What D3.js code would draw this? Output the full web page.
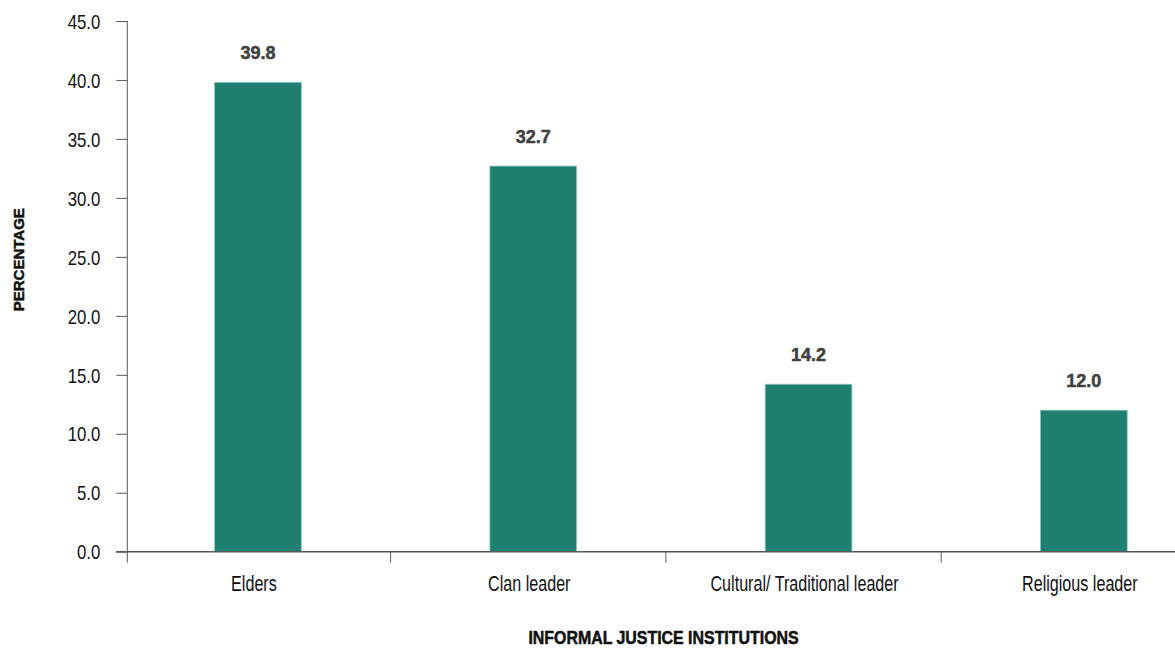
<!DOCTYPE html>
<html>
<head>
<meta charset="utf-8">
<script src="https://cdn.jsdelivr.net/npm/d3@7"></script>
<style>
  html, body { margin: 0; padding: 0; background: #fff; }
  svg { display: block; }
  text { font-family: "Liberation Sans", Arial, sans-serif; }
</style>
</head>
<body>
<svg id="chart" width="1175" height="649"></svg>
<script>
// Share of respondents by informal justice institution (%)
const categories = ["Elders", "Clan leader", "Cultural/ Traditional leader", "Religious leader"];
const values = [39.8, 32.7, 14.2, 12.0];
const yTicks = [0, 5, 10, 15, 20, 25, 30, 35, 40, 45];
const yTitle = "PERCENTAGE";
const xTitle = "INFORMAL JUSTICE INSTITUTIONS";

const svg = d3.select("#chart");

const x = d3.scaleBand().domain(categories).range([120.3, 1221.5]).padding(0);
const barFrac = 0.315;
const y = d3.scaleLinear().domain([0, 45]).range([551.7, 21]);

const axisColor = "#595959";

// Narrow type: text is placed at (px, py) and squeezed horizontally by sx
function place(sel, px, py, sx, rot) {
  return sel.attr("x", 0).attr("y", 0)
    .attr("transform", (d, i) => {
      const tx = typeof px === "function" ? px(d, i) : px;
      const ty = typeof py === "function" ? py(d, i) : py;
      return `translate(${tx},${ty})` + (rot ? ` rotate(${rot})` : "") + ` scale(${sx},1)`;
    });
}

// Bars
svg.append("g").selectAll("rect")
  .data(values)
  .join("rect")
  .attr("x", (d, i) => x(categories[i]) + x.bandwidth() * (1 - barFrac) / 2)
  .attr("width", x.bandwidth() * barFrac)
  .attr("y", d => y(d))
  .attr("height", d => y(0) - y(d))
  .attr("fill", "#1f7f71")
  .attr("stroke", "#8cc8bb")
  .attr("stroke-width", 0.8);

// Value labels
svg.append("g").selectAll("text")
  .data(values)
  .join("text")
  .call(place, (d, i) => x(categories[i]) + x.bandwidth() / 2, d => y(d) - 23, 0.95)
  .attr("text-anchor", "middle")
  .attr("font-size", 19)
  .attr("font-weight", "bold")
  .attr("fill", "#404040")
  .attr("stroke", "#404040")
  .attr("stroke-width", 0.5)
  .text(d => d.toFixed(1));

// Y axis ticks and labels
const yAxis = svg.append("g")
  .attr("transform", `translate(127.3,0)`)
  .call(d3.axisLeft(y).tickValues(yTicks).tickFormat(d3.format(".1f")).tickSize(11).tickPadding(16))
  .call(g => g.select(".domain").remove());
yAxis.selectAll(".tick line").attr("stroke", axisColor);
yAxis.selectAll(".tick text")
  .attr("font-size", 20)
  .attr("fill", "#111")
  .attr("font-family", null)
  .attr("dy", null)
  .each(function () {
    d3.select(this).attr("transform", `translate(-27,7.2) scale(0.84,1)`).attr("x", 0);
  });
svg.append("line")
  .attr("x1", 127.3).attr("x2", 127.3)
  .attr("y1", y(45)).attr("y2", y(0) + 11)
  .attr("stroke", axisColor).attr("stroke-width", 1);

// X axis
svg.append("line")
  .attr("x1", 116).attr("x2", 1175)
  .attr("y1", y(0)).attr("y2", y(0))
  .attr("stroke", axisColor).attr("stroke-width", 1.5);
svg.append("g").selectAll("line")
  .data(categories.slice(1))
  .join("line")
  .attr("x1", d => x(d) - 5).attr("x2", d => x(d) - 5)
  .attr("y1", y(0)).attr("y2", y(0) + 11)
  .attr("stroke", axisColor).attr("stroke-width", 1);
svg.append("g").selectAll("text")
  .data(categories)
  .join("text")
  .call(place, d => x(d) + x.bandwidth() / 2 - 4, 590.7, 0.75)
  .attr("text-anchor", "middle")
  .attr("font-size", 21.5)
  .attr("fill", "#111")
  .text(d => d);

// Axis titles
svg.append("text")
  .datum(yTitle)
  .call(place, 24, 259.7, 1.0, -90)
  .attr("text-anchor", "middle")
  .attr("font-size", 15)
  .attr("font-weight", "bold")
  .attr("fill", "#111")
  .attr("stroke", "#111")
  .attr("stroke-width", 0.5)
  .text(d => d);
svg.append("text")
  .datum(xTitle)
  .call(place, 663.5, 644, 0.91)
  .attr("text-anchor", "middle")
  .attr("font-size", 17.5)
  .attr("font-weight", "bold")
  .attr("fill", "#111")
  .attr("stroke", "#111")
  .attr("stroke-width", 0.5)
  .text(d => d);
</script>
</body>
</html>
